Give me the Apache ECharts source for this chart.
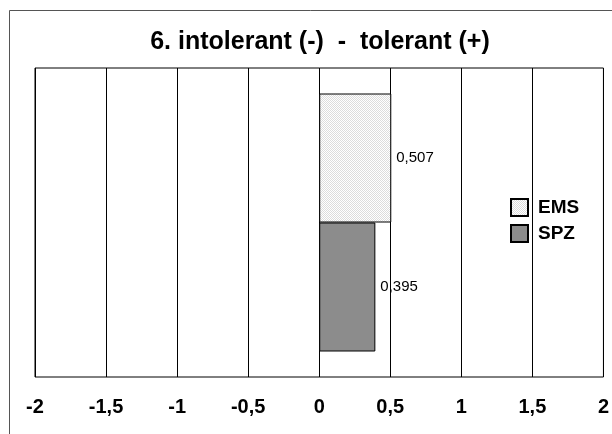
<!DOCTYPE html>
<html>
<head>
<meta charset="utf-8">
<script src="https://cdn.jsdelivr.net/npm/echarts@6/dist/echarts.min.js"></script>
<style>html,body{margin:0;padding:0;background:#fff}#c{width:612px;height:434px}</style>
</head>
<body>
<div id="c"></div>
<script>
const titleText = '6. intolerant (-)  -  tolerant (+)';
const categories = [''];
const seriesNames = ['EMS', 'SPZ'];
const emsValues = [0.507];
const spzValues = [0.395];
const xTicks = [-2, -1.5, -1, -0.5, 0, 0.5, 1, 1.5, 2];

function comma(v) { return String(v).replace('.', ','); }

const pc = document.createElement('canvas');
pc.width = 2; pc.height = 2;
const pctx = pc.getContext('2d');
pctx.fillStyle = '#ffffff'; pctx.fillRect(0, 0, 2, 2);
pctx.fillStyle = '#dcdcdc'; pctx.fillRect(0, 0, 1, 1); pctx.fillRect(1, 1, 1, 1);

const FONT = 'Liberation Sans, Arial, sans-serif';
const chart = echarts.init(document.getElementById('c'), null, {renderer: 'canvas'});
chart.setOption({
  animation: false,
  backgroundColor: '#fff',
  title: {
    text: titleText, left: 315, top: 25, textAlign: 'center',
    textStyle: {fontFamily: FONT, fontSize: 25, fontWeight: 'bold', color: '#000'}
  },
  legend: {
    data: seriesNames, orient: 'vertical', left: 505, top: 193,
    itemWidth: 17, itemHeight: 17, itemGap: 7,
    textStyle: {fontFamily: FONT, fontSize: 19, fontWeight: 'bold', color: '#000', padding: [0, 0, 0, 5]},
    icon: 'rect'
  },
  grid: {left: 35, right: 8, top: 68, bottom: 57, show: true, borderColor: '#000', borderWidth: 1, backgroundColor: '#fff'},
  xAxis: {
    type: 'value', min: xTicks[0], max: xTicks[xTicks.length - 1], interval: 0.5,
    axisLine: {show: false}, axisTick: {show: false},
    splitLine: {show: true, lineStyle: {color: '#000', width: 1}},
    axisLabel: {formatter: comma, margin: 20, fontFamily: FONT, fontSize: 20, fontWeight: 'bold', color: '#000'}
  },
  yAxis: {
    type: 'category', data: categories,
    axisLine: {show: false}, axisTick: {show: false}, axisLabel: {show: false}
  },
  series: [
    {
      name: 'EMS', type: 'bar', data: emsValues, barWidth: 129, barGap: '0%',
      itemStyle: {color: {image: pc, repeat: 'repeat'}, borderColor: '#000', borderWidth: 1},
      label: {show: true, position: 'right', distance: 5, formatter: p => comma(p.value), fontFamily: FONT, fontSize: 15, color: '#000'}
    },
    {
      name: 'SPZ', type: 'bar', data: spzValues, barWidth: 129, barGap: '0%',
      itemStyle: {color: '#8c8c8c', borderColor: '#000', borderWidth: 1},
      label: {show: true, position: 'right', distance: 5, formatter: p => comma(p.value), fontFamily: FONT, fontSize: 15, color: '#000'}
    }
  ],
  graphic: [
    {type: 'line', shape: {x1: 9.5, y1: 10.5, x2: 612, y2: 10.5}, style: {stroke: '#555', lineWidth: 1}},
    {type: 'line', shape: {x1: 9.5, y1: 10.5, x2: 9.5, y2: 434}, style: {stroke: '#555', lineWidth: 1}}
  ]
});
</script>
</body>
</html>
